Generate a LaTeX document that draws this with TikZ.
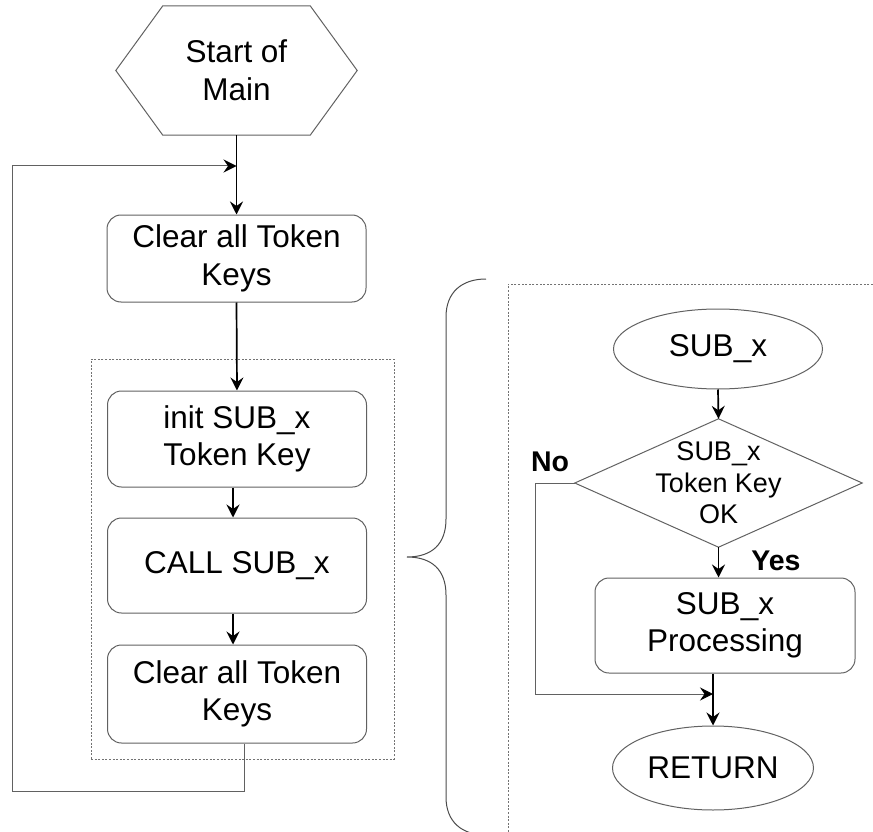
\documentclass[tikz,border=0pt]{standalone}
\usepackage{fontspec}
\setmainfont{Liberation Sans}
\usetikzlibrary{shapes.geometric,arrows.meta}
\begin{document}
\begin{tikzpicture}[x=1pt,y=-1pt,
  shapeline/.style={draw=black!62, line width=1pt},
  bigtext/.style={font=\fontsize{31.5}{37.5}\selectfont, align=center, inner sep=0pt},
  rbox/.style={shapeline, bigtext, rounded corners=14pt, minimum width=259pt},
  oval/.style={shapeline, bigtext, ellipse},
  flow/.style={draw=black, line width=1.7pt, -{Stealth[length=13pt,width=13pt,inset=4.5pt]}},
  thinflow/.style={draw=black!62, line width=1pt, -{Stealth[black,length=13pt,width=13pt,inset=4.5pt]}},
  thinline/.style={draw=black!62, line width=1pt},
  dotbox/.style={draw=black!55, line width=0.9pt, dash pattern=on 2pt off 1.6pt},
  brace/.style={draw=black!70, line width=1pt},
  lbl/.style={font=\fontsize{28.5}{32}\selectfont\bfseries, inner sep=0pt}
]
\useasboundingbox (0,0) rectangle (873,832);
\clip (0,0) rectangle (873,832);

% start hexagon
\node[bigtext, minimum width=241pt, minimum height=129pt] (start) at (236.5,70.5) {Start of\\Main};
\draw[shapeline] ([xshift=47pt]start.north west) -- ([xshift=-47pt]start.north east) -- (start.east)
  -- ([xshift=-47pt]start.south east) -- ([xshift=47pt]start.south west) -- (start.west) -- cycle;

% left column boxes
\node[rbox, minimum height=87pt] (b1) at (236.5,258.5) {Clear all Token\\Keys};
\node[dotbox, minimum width=303pt, minimum height=400pt, inner sep=0pt] (grp) at (242.5,559) {};
\node[rbox, minimum height=96pt] (b2) at (237,439) {init SUB\_x\\Token Key};
\node[rbox, minimum height=95pt] (b3) at (237,565.5) {CALL SUB\_x};
\node[rbox, minimum height=98pt] (b4) at (237,694) {Clear all Token\\Keys};

\coordinate (j1) at (236.5,166);
\coordinate (lbot) at (12,791);
\coordinate (ltop) at (12,166);

\draw[flow] (start.south) -- (b1.north);
\draw[flow] (b1.south) -- (b2.north);
\draw[flow] ([xshift=-4pt]b2.south) -- ([xshift=-4pt]b3.north);
\draw[flow] ([xshift=-4pt]b3.south) -- ([xshift=-4pt]b4.north);
\draw[thinline] ([xshift=7pt]b4.south) |- (lbot) -- (ltop);
\draw[thinflow] (ltop) -- (j1);

% brace
\draw[brace] (486,279) .. controls (462,279) and (446,292) .. (446,317) -- (446,519)
  .. controls (446,544) and (432,557) .. (407,557)
  .. controls (432,557) and (446,570) .. (446,595) -- (446,797)
  .. controls (446,822) and (462,835) .. (486,835);

% right dotted frame
\draw[dotbox] (880,284) -- (508,284) -- (508,840);

% right column
\node[oval, minimum width=209pt, minimum height=80pt] (sub) at (718,349) {SUB\_x};
\node[font=\fontsize{27}{31.5}\selectfont, align=center, inner sep=0pt,
      minimum width=287pt, minimum height=128pt] (dec) at (718.5,483) {SUB\_x\\Token Key\\OK};
\draw[shapeline] (dec.north) -- (dec.east) -- (dec.south) -- (dec.west) -- cycle;
\node[rbox, minimum width=260pt, minimum height=95pt] (proc) at (725,625.5) {SUB\_x\\Processing};
\node[oval, minimum width=201pt, minimum height=84pt] (ret) at (713,768) {RETURN};

\node[lbl] (no) at (550,462) {No};
\node[lbl] (yes) at (776,561) {Yes};

\coordinate (nob) at (535,483);
\coordinate (nobot) at (535,694);
\coordinate (j2) at (713,694);

\draw[flow] (sub.south) -- (dec.north);
\draw[flow] (dec.south) -- (dec.south |- proc.north);
\draw[thinline] (dec.west) -- (nob) -- (nobot);
\draw[thinflow] (nobot) -- (j2);
\draw[flow] (proc.south -| ret.north) -- (ret.north);
\end{tikzpicture}
\end{document}
